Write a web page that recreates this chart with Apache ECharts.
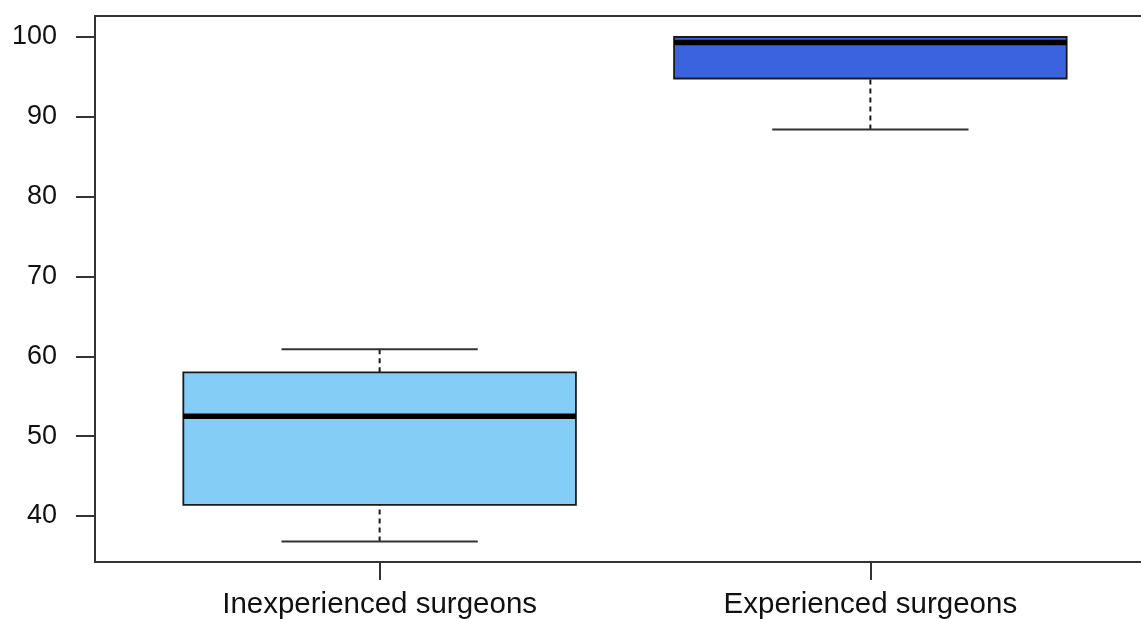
<!DOCTYPE html>
<html>
<head>
<meta charset="utf-8">
<script src="https://cdn.jsdelivr.net/npm/echarts@6/dist/echarts.min.js"></script>
<style>
  html, body { margin: 0; padding: 0; background: #fff; }
  #chart { width: 1141px; height: 619px; }
</style>
</head>
<body>
<div id="chart"></div>
<script>
// groups and box statistics
var categories = ['Inexperienced surgeons', 'Experienced surgeons'];
var whiskerLow = [36.8, 88.4];
var lowerQuartile = [41.4, 94.8];
var medians = [52.5, 99.3];
var upperQuartile = [58.0, 100];
var whiskerHigh = [60.9, 100];
var yTicks = [40, 50, 60, 70, 80, 90, 100];
var boxColors = ['#84CDF7', '#3B63DF'];

var boxData = categories.map(function (name, i) {
    return [i + 1, whiskerLow[i], lowerQuartile[i], medians[i], upperQuartile[i], whiskerHigh[i]];
});

var lineCol = '#1a1a1a';
var boxHalf = 0.4;   // box width 0.8 like R
var capHalf = 0.2;   // staple = half the box

function renderBox(params, api) {
    var x = api.value(0);
    var lo = api.value(1), b1 = api.value(2), md = api.value(3), b3 = api.value(4), hi = api.value(5);
    var pL = api.coord([x - boxHalf, b3]);
    var pR = api.coord([x + boxHalf, b1]);
    var pMl = api.coord([x - boxHalf, md]);
    var pMr = api.coord([x + boxHalf, md]);
    var cLoL = api.coord([x - capHalf, lo]), cLoR = api.coord([x + capHalf, lo]);
    var cHiL = api.coord([x - capHalf, hi]), cHiR = api.coord([x + capHalf, hi]);
    var pQ1 = api.coord([x, b1]), pQ3 = api.coord([x, b3]);
    var pLo = api.coord([x, lo]), pHi = api.coord([x, hi]);
    var children = [];
    // whiskers (dashed)
    children.push({
        type: 'line',
        shape: { x1: pLo[0], y1: pLo[1], x2: pQ1[0], y2: pQ1[1] },
        style: { stroke: lineCol, lineWidth: 2, lineDash: [5, 4] }
    });
    if (hi > b3) {
        children.push({
            type: 'line',
            shape: { x1: pHi[0], y1: pHi[1], x2: pQ3[0], y2: pQ3[1] },
            style: { stroke: lineCol, lineWidth: 2, lineDash: [5, 4] }
        });
    }
    // staples
    children.push({
        type: 'line',
        shape: { x1: cLoL[0], y1: cLoL[1], x2: cLoR[0], y2: cLoR[1] },
        style: { stroke: '#333', lineWidth: 2 }
    });
    children.push({
        type: 'line',
        shape: { x1: cHiL[0], y1: cHiL[1], x2: cHiR[0], y2: cHiR[1] },
        style: { stroke: '#333', lineWidth: 2 }
    });
    // box
    children.push({
        type: 'rect',
        shape: { x: pL[0], y: pL[1], width: pR[0] - pL[0], height: pR[1] - pL[1] },
        style: { fill: boxColors[params.dataIndex], stroke: lineCol, lineWidth: 1.8 }
    });
    // median
    children.push({
        type: 'line',
        shape: { x1: pMl[0], y1: pMl[1], x2: pMr[0], y2: pMr[1] },
        style: { stroke: '#000', lineWidth: 5.5 }
    });
    return { type: 'group', children: children };
}

var chart = echarts.init(document.getElementById('chart'));
chart.setOption({
    animation: false,
    backgroundColor: '#fff',
    grid: {
        left: 95, top: 16, right: -14, bottom: 57,
        outerBoundsMode: 'none',
        show: true, borderColor: '#333', borderWidth: 2, backgroundColor: 'transparent'
    },
    xAxis: {
        type: 'value',
        min: 0.42, max: 2.58,
        axisLine: { show: true, lineStyle: { color: '#333', width: 2 } },
        axisTick: { show: true, length: 18, lineStyle: { color: '#333', width: 2 }, customValues: [1, 2] },
        axisLabel: {
            customValues: [1, 2],
            margin: 28,
            color: '#111',
            fontSize: 29.5,
            fontFamily: 'Liberation Sans, Arial, sans-serif',
            formatter: function (v) { return categories[Math.round(v) - 1]; }
        },
        splitLine: { show: false }
    },
    yAxis: {
        type: 'value',
        min: 34.24, max: 102.63,
        axisLine: { show: true, lineStyle: { color: '#333', width: 2 } },
        axisTick: { show: true, length: 19, lineStyle: { color: '#333', width: 2 }, customValues: yTicks },
        axisLabel: {
            customValues: yTicks,
            margin: 38,
            color: '#111',
            fontSize: 27,
            fontFamily: 'Liberation Sans, Arial, sans-serif'
        },
        splitLine: { show: false }
    },
    series: [{
        type: 'custom',
        renderItem: renderBox,
        encode: { x: 0, y: [1, 2, 3, 4, 5] },
        data: boxData
    }]
});
</script>
</body>
</html>
